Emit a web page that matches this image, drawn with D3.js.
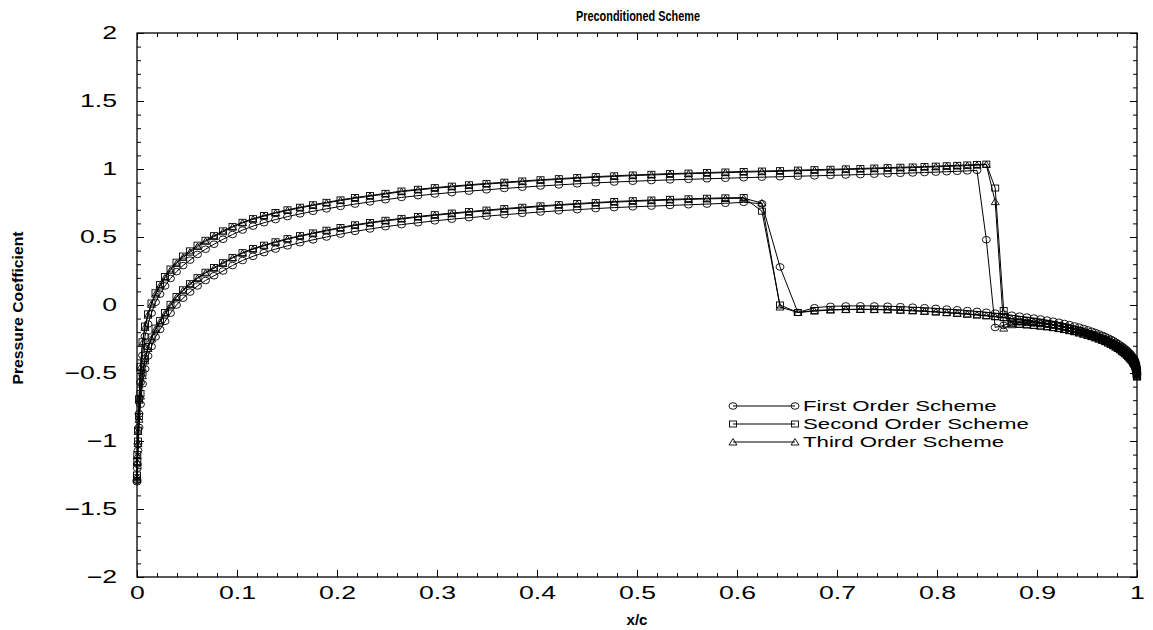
<!DOCTYPE html>
<html><head><meta charset="utf-8">
<script src="https://cdn.jsdelivr.net/npm/d3@7"></script>
<style>body{margin:0;background:#fff}svg{display:block}</style>
</head><body><svg id="c" width="1153" height="630"></svg>
<script>
// ---------- data ----------
const seriesNames = ["First Order Scheme", "Second Order Scheme", "Third Order Scheme"];
const xTicks = [0, 0.1, 0.2, 0.3, 0.4, 0.5, 0.6, 0.7, 0.8, 0.9, 1];
const xTickLabels = ["0", "0.1", "0.2", "0.3", "0.4", "0.5", "0.6", "0.7", "0.8", "0.9", "1"];
const yTicks = [2, 1.5, 1, 0.5, 0, -0.5, -1, -1.5, -2];
const yTickLabels = ["2", "1.5", "1", "0.5", "0", "\u22120.5", "\u22121", "\u22121.5", "\u22122"];

// x/c grid (shared by every curve)
const xGrid = [0, 0.0003, 0.001, 0.002, 0.0035, 0.0055, 0.008, 0.011, 0.0145, 0.0185,
  0.023, 0.028, 0.0335, 0.0395, 0.046, 0.053, 0.0605, 0.0685, 0.077, 0.086,
  0.0955, 0.1055, 0.116, 0.127, 0.1385, 0.1505, 0.163, 0.176, 0.1895, 0.2035,
  0.218, 0.233, 0.2485, 0.2645, 0.281, 0.2978, 0.3148, 0.332, 0.3495, 0.3673,
  0.3853, 0.4035, 0.4218, 0.4402, 0.4587, 0.4772, 0.4958, 0.5144, 0.533, 0.5515,
  0.57, 0.5884, 0.6067, 0.6249, 0.643, 0.6609, 0.6775, 0.6935, 0.7088, 0.7234,
  0.7373, 0.7506, 0.7634, 0.7757, 0.7875, 0.7988, 0.8097, 0.8202, 0.8303, 0.84,
  0.8493, 0.8582, 0.8667, 0.8748, 0.8825, 0.8899, 0.8969, 0.9036, 0.91, 0.9161,
  0.9219, 0.9274, 0.9326, 0.9375, 0.9422, 0.9466, 0.9508, 0.9547, 0.9584, 0.9619,
  0.9652, 0.9683, 0.9712, 0.9739, 0.9764, 0.9788, 0.981, 0.9831, 0.985, 0.9868,
  0.9885, 0.99, 0.9914, 0.9927, 0.9939, 0.995, 0.996, 0.9969, 0.9977, 0.9984,
  0.999, 0.9995, 0.9998, 1];

// upper curve (shock near x/c = 0.85)
const firstUpper = [-1.29, -1.17, -1.02, -0.8, -0.57, -0.37, -0.23, -0.14, -0.06, 0.02,
  0.08, 0.14, 0.195, 0.245, 0.29, 0.33, 0.372, 0.41, 0.447, 0.483,
  0.518, 0.551, 0.58, 0.605, 0.628, 0.65, 0.67, 0.689, 0.707, 0.725,
  0.742, 0.758, 0.774, 0.791, 0.804, 0.816, 0.827, 0.837, 0.847, 0.857,
  0.866, 0.875, 0.883, 0.891, 0.898, 0.904, 0.91, 0.915, 0.92, 0.924,
  0.928, 0.932, 0.936, 0.94, 0.943, 0.947, 0.95, 0.953, 0.956, 0.959,
  0.962, 0.965, 0.968, 0.971, 0.974, 0.977, 0.98, 0.983, 0.986, 0.99,
  0.48, -0.165, -0.15, -0.125, -0.125, -0.129, -0.133, -0.138, -0.143, -0.149,
  -0.156, -0.163, -0.171, -0.179, -0.188, -0.197, -0.206, -0.215, -0.224, -0.233,
  -0.242, -0.252, -0.262, -0.272, -0.282, -0.292, -0.302, -0.312, -0.322, -0.332,
  -0.342, -0.352, -0.362, -0.372, -0.382, -0.392, -0.402, -0.412, -0.422, -0.437,
  -0.452, -0.472, -0.492, -0.512];
const secondUpper = [-1.25, -1.1, -0.92, -0.69, -0.45, -0.27, -0.155, -0.065, 0.015, 0.09,
  0.15, 0.21, 0.265, 0.315, 0.36, 0.398, 0.44, 0.476, 0.51, 0.545,
  0.578, 0.608, 0.635, 0.658, 0.68, 0.7, 0.719, 0.737, 0.755, 0.773,
  0.79, 0.805, 0.821, 0.838, 0.851, 0.863, 0.874, 0.884, 0.894, 0.903,
  0.912, 0.921, 0.929, 0.937, 0.944, 0.95, 0.956, 0.961, 0.966, 0.97,
  0.974, 0.978, 0.982, 0.985, 0.988, 0.992, 0.995, 0.998, 1.001, 1.004,
  1.007, 1.01, 1.013, 1.015, 1.018, 1.021, 1.024, 1.027, 1.03, 1.033,
  1.036, 0.86, -0.04, -0.135, -0.141, -0.145, -0.149, -0.154, -0.159, -0.165,
  -0.172, -0.179, -0.187, -0.195, -0.204, -0.213, -0.222, -0.231, -0.24, -0.249,
  -0.258, -0.268, -0.278, -0.288, -0.298, -0.308, -0.318, -0.328, -0.338, -0.348,
  -0.358, -0.368, -0.378, -0.388, -0.398, -0.408, -0.418, -0.428, -0.438, -0.452,
  -0.467, -0.487, -0.507, -0.527];
const thirdUpper = [-1.26, -1.11, -0.93, -0.7, -0.46, -0.28, -0.165, -0.075, 0.005, 0.08,
  0.14, 0.2, 0.255, 0.305, 0.35, 0.388, 0.43, 0.468, 0.503, 0.538,
  0.572, 0.603, 0.63, 0.653, 0.675, 0.695, 0.714, 0.732, 0.75, 0.768,
  0.785, 0.8, 0.816, 0.833, 0.846, 0.858, 0.869, 0.879, 0.889, 0.898,
  0.907, 0.916, 0.924, 0.932, 0.939, 0.945, 0.951, 0.956, 0.961, 0.965,
  0.969, 0.973, 0.977, 0.98, 0.983, 0.987, 0.99, 0.993, 0.996, 0.999,
  1.002, 1.005, 1.008, 1.01, 1.013, 1.016, 1.019, 1.022, 1.025, 1.028,
  1.033, 0.76, -0.17, -0.145, -0.143, -0.147, -0.151, -0.156, -0.161, -0.167,
  -0.174, -0.181, -0.189, -0.197, -0.206, -0.215, -0.224, -0.233, -0.242, -0.251,
  -0.26, -0.27, -0.28, -0.29, -0.3, -0.31, -0.32, -0.33, -0.34, -0.35,
  -0.36, -0.37, -0.38, -0.39, -0.4, -0.41, -0.42, -0.43, -0.44, -0.455,
  -0.47, -0.49, -0.51, -0.53];

// lower curve (shock near x/c = 0.64)
const firstLower = [-1.3, -1.2, -1.07, -0.9, -0.73, -0.58, -0.47, -0.375, -0.305, -0.235,
  -0.18, -0.12, -0.06, 0.0, 0.05, 0.095, 0.14, 0.18, 0.215, 0.25,
  0.29, 0.327, 0.358, 0.385, 0.411, 0.435, 0.458, 0.479, 0.5, 0.521,
  0.541, 0.559, 0.576, 0.591, 0.605, 0.619, 0.631, 0.642, 0.653, 0.664,
  0.674, 0.684, 0.693, 0.701, 0.709, 0.716, 0.722, 0.727, 0.732, 0.737,
  0.742, 0.748, 0.755, 0.745, 0.28, -0.055, -0.02, -0.01, -0.007, -0.006,
  -0.007, -0.009, -0.012, -0.016, -0.02, -0.025, -0.03, -0.035, -0.041, -0.047,
  -0.053, -0.06, -0.067, -0.075, -0.082, -0.089, -0.096, -0.103, -0.111, -0.119,
  -0.127, -0.136, -0.145, -0.154, -0.163, -0.173, -0.183, -0.193, -0.203, -0.213,
  -0.223, -0.233, -0.243, -0.253, -0.263, -0.274, -0.285, -0.295, -0.305, -0.315,
  -0.325, -0.335, -0.345, -0.355, -0.365, -0.375, -0.385, -0.395, -0.405, -0.42,
  -0.435, -0.455, -0.475, -0.5];
const secondLower = [-1.27, -1.15, -1.0, -0.82, -0.65, -0.5, -0.395, -0.305, -0.235, -0.17,
  -0.115, -0.055, 0.005, 0.063, 0.112, 0.157, 0.201, 0.241, 0.276, 0.311,
  0.35, 0.385, 0.415, 0.44, 0.465, 0.488, 0.51, 0.53, 0.55, 0.57,
  0.59, 0.607, 0.623, 0.637, 0.651, 0.664, 0.676, 0.687, 0.698, 0.709,
  0.719, 0.729, 0.738, 0.746, 0.754, 0.761, 0.767, 0.772, 0.777, 0.781,
  0.785, 0.788, 0.79, 0.69, 0.0, -0.055, -0.04, -0.035, -0.032, -0.031,
  -0.032, -0.034, -0.037, -0.041, -0.045, -0.05, -0.055, -0.06, -0.066, -0.072,
  -0.078, -0.085, -0.092, -0.1, -0.107, -0.114, -0.121, -0.128, -0.136, -0.144,
  -0.152, -0.161, -0.17, -0.179, -0.188, -0.198, -0.208, -0.218, -0.228, -0.238,
  -0.248, -0.258, -0.268, -0.278, -0.288, -0.299, -0.31, -0.32, -0.33, -0.34,
  -0.35, -0.36, -0.37, -0.38, -0.39, -0.4, -0.41, -0.42, -0.43, -0.445,
  -0.46, -0.48, -0.5, -0.52];
const thirdLower = [-1.28, -1.16, -1.02, -0.84, -0.67, -0.52, -0.41, -0.32, -0.25, -0.18,
  -0.125, -0.065, -0.005, 0.055, 0.105, 0.15, 0.195, 0.235, 0.27, 0.305,
  0.345, 0.38, 0.41, 0.435, 0.46, 0.483, 0.505, 0.525, 0.545, 0.565,
  0.585, 0.602, 0.618, 0.632, 0.646, 0.659, 0.671, 0.682, 0.693, 0.704,
  0.714, 0.724, 0.733, 0.741, 0.749, 0.756, 0.762, 0.767, 0.772, 0.776,
  0.78, 0.783, 0.785, 0.75, -0.015, -0.055, -0.045, -0.037, -0.034, -0.033,
  -0.034, -0.036, -0.039, -0.043, -0.047, -0.052, -0.057, -0.062, -0.068, -0.074,
  -0.08, -0.087, -0.094, -0.102, -0.109, -0.116, -0.123, -0.13, -0.138, -0.146,
  -0.154, -0.163, -0.172, -0.181, -0.19, -0.2, -0.21, -0.22, -0.23, -0.24,
  -0.25, -0.26, -0.27, -0.28, -0.29, -0.301, -0.312, -0.322, -0.332, -0.342,
  -0.352, -0.362, -0.372, -0.382, -0.392, -0.402, -0.412, -0.422, -0.432, -0.447,
  -0.462, -0.482, -0.502, -0.522];

// ---------- drawing ----------
const svg = d3.select("#c");
const L = 137, R = 1137, T = 33, B = 577;
const x = d3.scaleLinear().domain([0, 1]).range([L, R]);
const y = d3.scaleLinear().domain([-2, 2]).range([B, T]);
const STRETCH = 1.48;

svg.append("rect").attr("width", 1153).attr("height", 630).attr("fill", "#fff");

const xMinor = d3.range(0, 1.0001, 0.02);
const yMinor = d3.range(-2, 2.0001, 0.1);

function styleAxis(g) { g.select(".domain").remove(); g.selectAll("line").attr("stroke", "#000").attr("stroke-width", 1); }

// minor ticks
svg.append("g").attr("transform", `translate(0,${B})`).call(d3.axisBottom(x).tickValues(xMinor).tickSizeInner(-4).tickSizeOuter(0).tickFormat("")).call(styleAxis);
svg.append("g").attr("transform", `translate(0,${T})`).call(d3.axisTop(x).tickValues(xMinor).tickSizeInner(-4).tickSizeOuter(0).tickFormat("")).call(styleAxis);
svg.append("g").attr("transform", `translate(${L},0)`).call(d3.axisLeft(y).tickValues(yMinor).tickSizeInner(-4).tickSizeOuter(0).tickFormat("")).call(styleAxis);
svg.append("g").attr("transform", `translate(${R},0)`).call(d3.axisRight(y).tickValues(yMinor).tickSizeInner(-4).tickSizeOuter(0).tickFormat("")).call(styleAxis);

// major ticks
const gx = svg.append("g").attr("transform", `translate(0,${B})`)
  .call(d3.axisBottom(x).tickValues(xTicks).tickSizeInner(-7).tickSizeOuter(0).tickPadding(9).tickFormat((d, i) => xTickLabels[i]))
  .call(styleAxis);
gx.selectAll("text").attr("font-family", "'Liberation Sans', Arial, sans-serif").attr("font-size", 18).attr("fill", "#000")
  .attr("transform", `scale(${STRETCH},1)`);
svg.append("g").attr("transform", `translate(0,${T})`).call(d3.axisTop(x).tickValues(xTicks).tickSizeInner(-7).tickSizeOuter(0).tickFormat("")).call(styleAxis);
const gy = svg.append("g").attr("transform", `translate(${L},0)`)
  .call(d3.axisLeft(y).tickValues(yTicks).tickSizeInner(-7).tickSizeOuter(0).tickFormat((d, i) => yTickLabels[i]))
  .call(styleAxis);
gy.selectAll("text").attr("font-family", "'Liberation Sans', Arial, sans-serif").attr("font-size", 18).attr("fill", "#000")
  .attr("x", 0).attr("transform", `translate(-20,0) scale(${STRETCH},1)`);
svg.append("g").attr("transform", `translate(${R},0)`).call(d3.axisRight(y).tickValues(yTicks).tickSizeInner(-7).tickSizeOuter(0).tickFormat("")).call(styleAxis);

// frame
svg.append("rect").attr("x", L).attr("y", T).attr("width", R - L).attr("height", B - T)
  .attr("fill", "none").attr("stroke", "#000").attr("stroke-width", 1.3);

// markers
function marker(g, kind, cx, cy) {
  if (kind === 0) {
    g.append("ellipse").attr("cx", cx).attr("cy", cy).attr("rx", 4).attr("ry", 3.3)
      .attr("fill", "none").attr("stroke", "#000").attr("stroke-width", 0.9);
  } else if (kind === 1) {
    g.append("rect").attr("x", cx - 3.5).attr("y", cy - 3).attr("width", 7).attr("height", 6)
      .attr("fill", "none").attr("stroke", "#000").attr("stroke-width", 0.9);
  } else {
    g.append("path").attr("d", `M${cx - 4},${cy + 3}L${cx + 4},${cy + 3}L${cx},${cy - 3.5}Z`)
      .attr("fill", "none").attr("stroke", "#000").attr("stroke-width", 0.9);
  }
}

const curves = [
  {kind: 0, vals: firstUpper}, {kind: 1, vals: secondUpper}, {kind: 2, vals: thirdUpper},
  {kind: 0, vals: firstLower}, {kind: 1, vals: secondLower}, {kind: 2, vals: thirdLower}
];
const line = d3.line().x(d => x(d[0])).y(d => y(d[1]));
const plot = svg.append("g");
curves.forEach(c => {
  const pts = xGrid.map((xv, i) => [xv, c.vals[i]]);
  plot.append("path").attr("d", line(pts)).attr("fill", "none").attr("stroke", "#000").attr("stroke-width", 1);
});
curves.forEach(c => {
  const g = plot.append("g");
  xGrid.forEach((xv, i) => marker(g, c.kind, x(xv), y(c.vals[i])));
});

// legend
const leg = svg.append("g");
seriesNames.forEach((name, i) => {
  const ly = 406 + i * 18;
  leg.append("line").attr("x1", 733).attr("x2", 795).attr("y1", ly).attr("y2", ly).attr("stroke", "#000").attr("stroke-width", 1);
  marker(leg, i, 733, ly);
  marker(leg, i, 795, ly);
  leg.append("text").attr("transform", `translate(803,${ly}) scale(${STRETCH},1)`).attr("dy", "0.36em")
    .attr("font-family", "'Liberation Sans', Arial, sans-serif").attr("font-size", 15).text(name);
});

// titles
const boldNarrow = "'Liberation Sans Narrow', 'Arial Narrow', 'Liberation Sans', Arial, sans-serif";
svg.append("text").attr("x", 638).attr("y", 21).attr("text-anchor", "middle")
  .attr("font-family", boldNarrow).attr("font-weight", "bold").attr("font-size", 14)
  .attr("textLength", 124).attr("lengthAdjust", "spacingAndGlyphs").text("Preconditioned Scheme");
svg.append("text").attr("x", 637).attr("y", 625).attr("text-anchor", "middle")
  .attr("font-family", boldNarrow).attr("font-weight", "bold").attr("font-size", 14)
  .attr("textLength", 21).attr("lengthAdjust", "spacingAndGlyphs").text("x/c");
svg.append("text").attr("transform", "translate(23,308) rotate(-90)").attr("text-anchor", "middle")
  .attr("font-family", boldNarrow).attr("font-weight", "bold").attr("font-size", 14)
  .attr("textLength", 153).attr("lengthAdjust", "spacingAndGlyphs").text("Pressure Coefficient");
</script></body></html>
